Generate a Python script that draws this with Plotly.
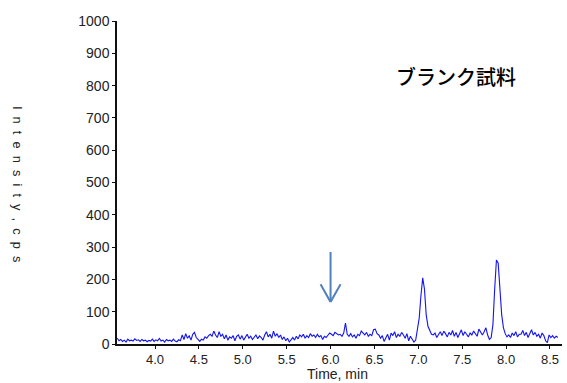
import plotly.graph_objects as go

start_time = 3.57
step = 0.02
intensity = [
    18, 10, 14, 8, 12, 6, 15, 10, 12, 9,        # 3.57-3.75
    16, 11, 13, 8, 14, 10, 12, 7, 11, 9,        # 3.77-3.95
    15, 8, 13, 10, 17, 9, 12, 6, 14, 10,        # 3.97-4.15
    12, 8, 15, 9, 7, 13, 10, 28, 14, 32,        # 4.17-4.35
    18, 25, 12, 30, 36, 20, 14, 8, 15, 12,      # 4.37-4.55
    22, 18, 26, 30, 24, 40, 28, 20, 38, 24,     # 4.57-4.75
    30, 16, 28, 12, 22, 18, 26, 10, 24, 28,     # 4.77-4.95
    15, 26, 12, 20, 30, 18, 24, 14, 22, 28,     # 4.97-5.15
    16, 25, 20, 12, 28, 38, 22, 30, 18, 40,     # 5.17-5.35
    24, 32, 20, 28, 14, 22, 10, 18, 6, 15,      # 5.37-5.55
    20, 12, 24, 16, 28, 22, 30, 18, 26, 20,     # 5.57-5.75
    32, 24, 28, 20, 30, 22, 26, 14, 24, 20,     # 5.77-5.95
    28, 34, 30, 26, 36, 32, 28, 30, 24, 34,     # 5.97-6.15
    65, 30, 24, 32, 22, 28, 18, 30, 26, 40,     # 6.17-6.35
    32, 28, 36, 24, 30, 26, 44, 46, 32, 28,     # 6.37-6.55
    18, 26, 8, 22, 30, 12, 34, 26, 38, 20,      # 6.57-6.75
    30, 24, 36, 28, 18, 32, 10, 24, 16, 6,      # 6.77-6.95
    12, 40, 80, 150, 205, 170, 90, 55, 40, 30,  # 6.97-7.15
    28, 34, 20, 30, 38, 26, 40, 32, 22, 36,     # 7.17-7.35
    28, 42, 24, 36, 20, 32, 44, 26, 38, 30,     # 7.37-7.55
    22, 34, 28, 40, 30, 24, 46, 36, 28, 38,     # 7.57-7.75
    50, 28, 14, 20, 60, 170, 260, 250, 180, 90, # 7.77-7.95
    50, 32, 22, 28, 20, 34, 26, 38, 22, 30,     # 7.97-8.15
    30, 42, 26, 36, 20, 32, 44, 28, 36, 24,     # 8.17-8.35
    30, 18, 34, 26, 10, 4, 28, 20, 26, 18,      # 8.37-8.55
    24, 20,                                     # 8.57-8.59
]
times = [round(start_time + step * i, 2) for i in range(len(intensity))]

x_tick_vals = [4.0, 4.5, 5.0, 5.5, 6.0, 6.5, 7.0, 7.5, 8.0, 8.5]
x_tick_text = ["4.0", "4.5", "5.0", "5.5", "6.0", "6.5", "7.0", "7.5", "8.0", "8.5"]
y_tick_vals = [0, 100, 200, 300, 400, 500, 600, 700, 800, 900, 1000]

sample_label = "ブランク試料"
x_title = "Time, min"
y_title = "\u00a0\u00a0".join(list("Intensity,")) + "\u00a0\u00a0" + "\u00a0\u00a0".join(list("cps"))

# arrow marking the expected retention time
arrow_x = 6.0
arrow_top = 285
arrow_tip = 130
arrow_wing_dx = 0.114
arrow_wing_dy = 55
arrow_color = "#4F81BD"

fig = go.Figure()
fig.add_trace(go.Scatter(
    x=times, y=intensity, mode="lines",
    line=dict(color="#1414F0", width=1.1),
    showlegend=False, hoverinfo="skip",
))

shapes = [
    dict(type="line", xref="x", yref="y", x0=arrow_x, x1=arrow_x, y0=arrow_top, y1=arrow_tip,
         line=dict(color=arrow_color, width=2)),
    dict(type="line", xref="x", yref="y", x0=arrow_x - arrow_wing_dx, x1=arrow_x,
         y0=arrow_tip + arrow_wing_dy, y1=arrow_tip, line=dict(color=arrow_color, width=2)),
    dict(type="line", xref="x", yref="y", x0=arrow_x + arrow_wing_dx, x1=arrow_x,
         y0=arrow_tip + arrow_wing_dy, y1=arrow_tip, line=dict(color=arrow_color, width=2)),
]

annotations = [
    dict(text=sample_label, xref="paper", yref="paper", x=0.762, y=0.828,
         showarrow=False, font=dict(family="Noto Sans CJK JP", size=20, color="#000000", weight=500),
         xanchor="center", yanchor="middle"),
    dict(text=x_title, xref="paper", yref="paper", x=0.495, y=-0.093,
         showarrow=False, font=dict(family="Liberation Sans, Arial", size=14, color="#222222"),
         xanchor="center", yanchor="middle"),
    dict(text=y_title, xref="paper", yref="paper", x=-0.222, y=0.495, textangle=90,
         showarrow=False, font=dict(family="Liberation Sans, Arial", size=12.8, color="#222222"),
         xanchor="center", yanchor="middle"),
]

fig.update_layout(
    width=567, height=383,
    margin=dict(l=117, r=5, t=21, b=39),
    paper_bgcolor="white", plot_bgcolor="white",
    shapes=shapes, annotations=annotations,
    xaxis=dict(
        range=[3.567, 8.637], tickvals=x_tick_vals, ticktext=x_tick_text,
        showgrid=False, zeroline=False, showline=True, linecolor="#111111", linewidth=1.5,
        ticks="outside", ticklen=3, tickcolor="#111111",
        tickfont=dict(family="Liberation Sans, Arial", size=13, color="#222222"),
    ),
    yaxis=dict(
        range=[0, 1000], tickvals=y_tick_vals,
        showgrid=False, zeroline=False, showline=True, linecolor="#111111", linewidth=1.5,
        ticks="outside", ticklen=3, tickcolor="#111111",
        tickfont=dict(family="Liberation Sans, Arial", size=14, color="#222222"),
    ),
)

fig.write_html("out.html", config={"displayModeBar": False},
               post_script="document.body.style.margin='0';document.body.style.padding='0';")
